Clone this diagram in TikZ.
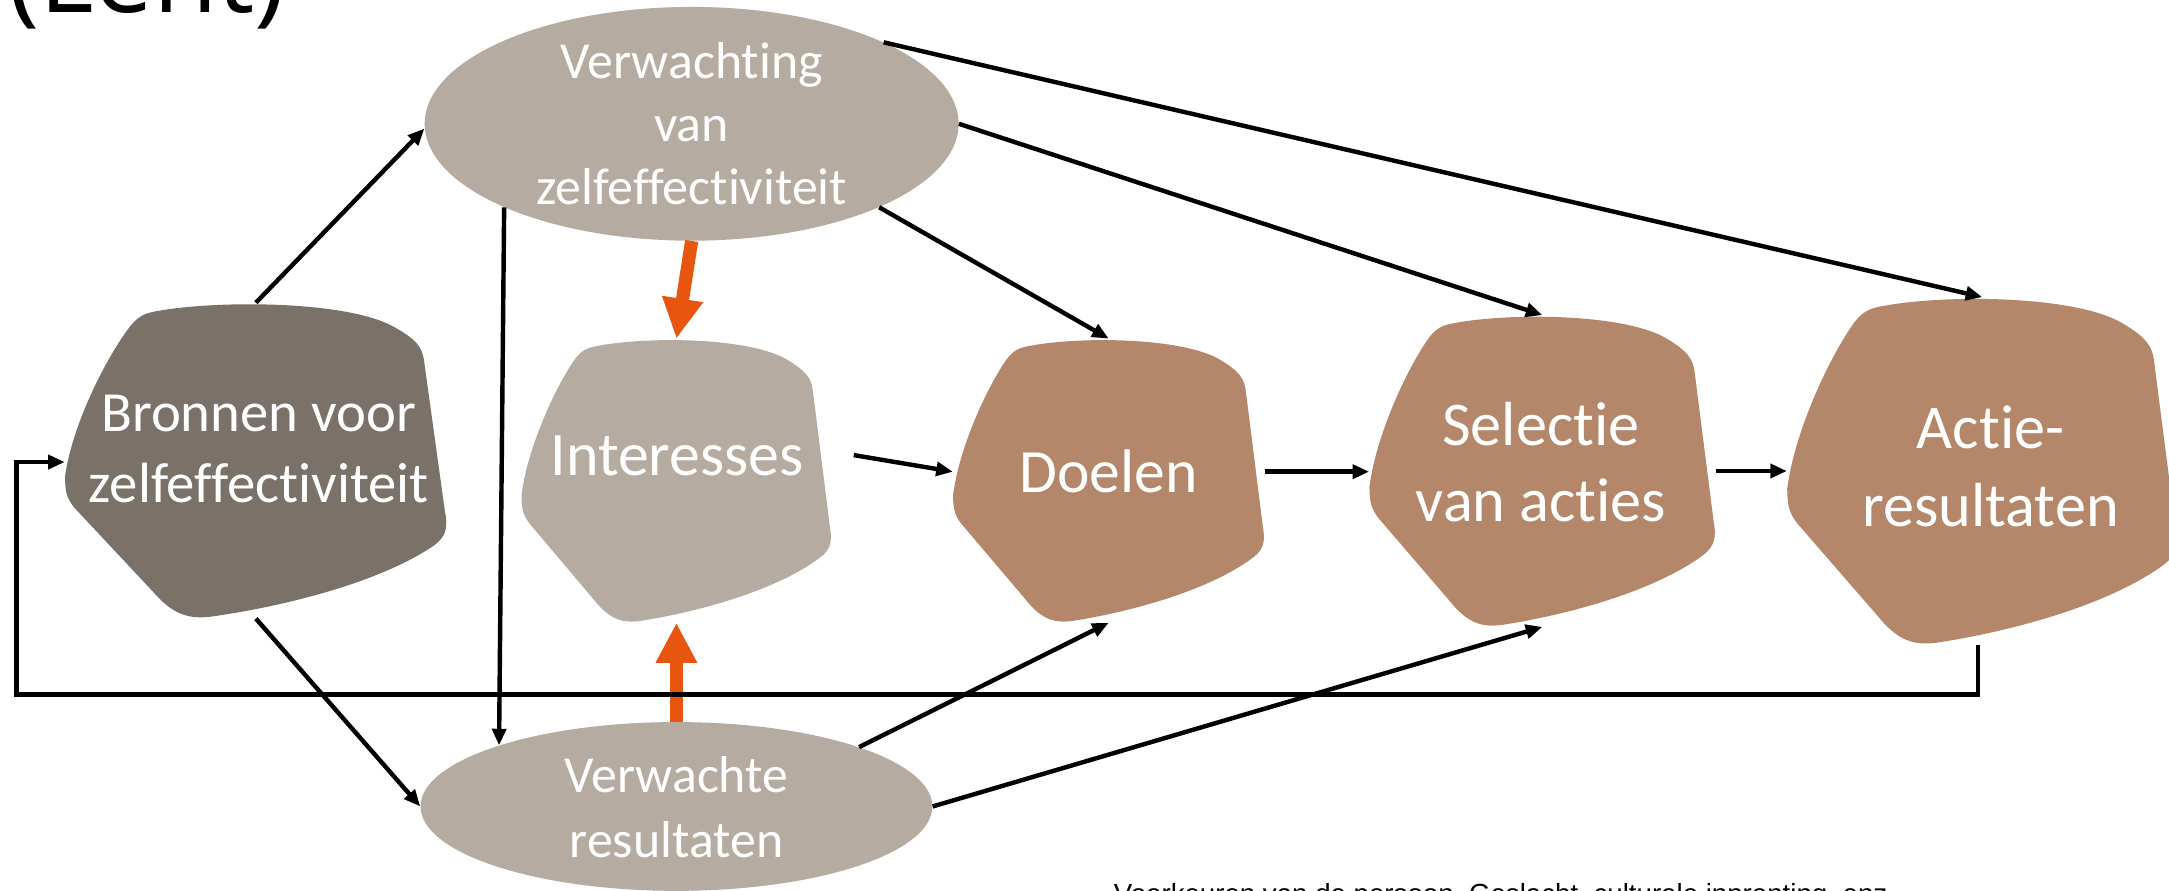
\documentclass[tikz,border=0pt]{standalone}
\usepackage{fontspec}
\setmainfont{Carlito}[Ligatures={NoCommon,NoRequired,NoContextual}]
\newfontfamily\titlefont{Open Sans}
\newfontfamily\notefont{Liberation Sans}
\usetikzlibrary{arrows.meta,shapes.geometric}
\definecolor{darkblob}{HTML}{7A7268}
\definecolor{taupe}{HTML}{B5ABA1}
\definecolor{brownblob}{HTML}{B4876A}
\definecolor{orangearr}{HTML}{E8550F}
\tikzset{
  blobbox/.style={rectangle,draw=none,inner sep=0pt},
  ell/.style={ellipse,fill=taupe,draw=none,inner sep=0pt},
  lbl/.style={text=white,align=center,inner sep=0pt},
  arr/.style={draw=black,line width=3.2pt,-{Triangle[length=12pt,width=10pt]}},
  orangearrow/.style={draw=orangearr,line width=9.5pt,-{Triangle[length=29pt,width=28pt]}},
  fbline/.style={draw=black,line width=3.2pt,-{Triangle[length=12pt,width=10pt]}}
}
% #1 colour, #2 x0, #3 y0, #4 width, #5 height, #6 node name
\newcommand{\blobshape}[6]{%
  \begin{scope}[shift={(#2,#3)},xscale=#4,yscale=#5]
    \fill[#1] (0,0.55) .. controls (0.02,0.38) and (0.11,0.17) .. (0.17,0.075)
      .. controls (0.20,0.03) and (0.22,0.03) .. (0.27,0.02)
      .. controls (0.45,-0.01) and (0.75,0.0) .. (0.86,0.075)
      .. controls (0.92,0.115) and (0.935,0.14) .. (0.94,0.18)
      -- (0.995,0.66)
      .. controls (1.003,0.71) and (1.0,0.74) .. (0.965,0.77)
      .. controls (0.82,0.89) and (0.56,0.965) .. (0.38,0.995)
      .. controls (0.32,1.003) and (0.28,0.985) .. (0.23,0.915)
      -- (0.025,0.65)
      .. controls (0.005,0.62) and (0,0.6) .. (0,0.55) -- cycle;
  \end{scope}
  \node[blobbox,minimum width=#4pt,minimum height=#5pt] (#6) at ({#2+#4/2},{#3+#5/2}) {};
}
\begin{document}
\begin{tikzpicture}[x=1pt,y=-1pt]
\path[use as bounding box] (0,0) rectangle (1568,644);
\clip (0,0) rectangle (1568,644);

% title and note (cut by the frame)
\node[anchor=base west,inner sep=0pt,font=\titlefont\fontsize{76}{80}\selectfont] (title) at (6,9) {(Lent)};
\node[anchor=base west,inner sep=0pt,font=\notefont\fontsize{20}{24}\selectfont] (note) at (805,653) {Voorkeuren van de persoon, Geslacht, culturele inprenting, enz.};

% shapes
\blobshape{darkblob}{47}{219}{276}{228}{bron}
\blobshape{taupe}{377}{245}{224}{205}{intr}
\blobshape{brownblob}{689}{245}{225}{205}{doel}
\blobshape{brownblob}{990}{228}{250}{225}{sel}
\blobshape{brownblob}{1292}{215}{282}{251}{actie}
\node[ell,minimum width=386pt,minimum height=169pt] (verw) at (500,89.5) {};
\node[ell,minimum width=370pt,minimum height=122pt] (verwr) at (489,583) {};

% labels
\node[lbl,font=\fontsize{41}{51}\selectfont] (bront) at (187,324.5) {Bronnen voor\\zelfeffectiviteit};
\node[lbl,font=\fontsize{44.7}{54}\selectfont,anchor=base] (intrt) at (489.5,344) {Interesses};
\node[lbl,font=\fontsize{44.5}{54}\selectfont,anchor=base] (doelt) at (801.5,356) {Doelen};
\node[lbl,font=\fontsize{45}{55}\selectfont] (selt) at (1114,333.75) {Selectie\\van acties};
\node[lbl,font=\fontsize{45}{56}\selectfont] (actiet) at (1439,337) {Actie-\\resultaten};
\node[lbl,font=\fontsize{37.5}{45.5}\selectfont] (verwt) at (500,89.5) {Verwachting\\van\\zelfeffectiviteit};
\node[lbl,font=\fontsize{37.5}{47}\selectfont] (verwrt) at (489,583.5) {Verwachte\\resultaten};

% black connectors
\draw[arr] (bron.north) -- ([yshift=-3.5pt]verw.west);
\draw[arr] (bron.south) -- (verwr.west);
\draw[arr] (verw.23.5) -- (actie.north);
\draw[arr] (verw.east) -- (sel.north);
\draw[arr] (verw.-24) -- (doel.north);
\draw[arr] (verw.204) -- (verwr.161);
\draw[arr] ([shift={(16,-18.5)}]intr.east) -- ([shift={(0,-6.5)}]doel.west);
\draw[arr] ([yshift=6.5pt]doel.east) -- ([yshift=6.5pt]doel.east -| sel.west);
\draw[arr] (sel.east) -- (sel.east -| actie.west);
\draw[arr] (verwr.18.6) -- (doel.south);
\draw[arr] (verwr.east) -- (sel.south);

% orange influences
\draw[orangearrow] (verw.south) -- (intr.north);
\draw[orangearrow] (verwr.north) -- (intr.south);

% feedback loop
\coordinate (fbdown) at ([xshift=-3pt]actie.south);
\draw[fbline] (fbdown) -- ++(0,36) -| (12,334) -- (bron.west |- 0,334);
\end{tikzpicture}
\end{document}
